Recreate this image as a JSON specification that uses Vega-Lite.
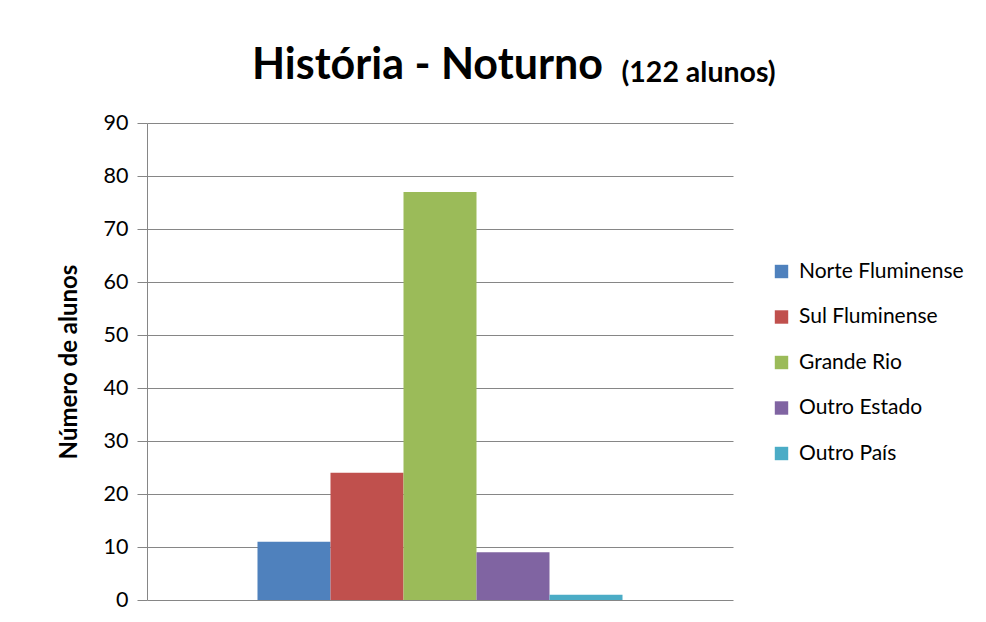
{
  "$schema": "https://vega.github.io/schema/vega-lite/v6.json",
  "autosize": "none",
  "width": 586,
  "height": 477,
  "padding": {"left": 147, "top": 123, "right": 253, "bottom": 22},
  "background": "white",
  "title": {
    "text": "História - Noturno",
    "anchor": "start",
    "frame": "group",
    "dx": 105,
    "font": "Lato",
    "fontSize": 43,
    "fontWeight": "bold",
    "color": "#000000",
    "baseline": "alphabetic",
    "offset": -64
  },
  "data": {
    "values": [
      {"grupo": "Noturno", "origem": "Norte Fluminense", "alunos": 11},
      {"grupo": "Noturno", "origem": "Sul Fluminense", "alunos": 24},
      {"grupo": "Noturno", "origem": "Grande Rio", "alunos": 77},
      {"grupo": "Noturno", "origem": "Outro Estado", "alunos": 9},
      {"grupo": "Noturno", "origem": "Outro País", "alunos": 1}
    ]
  },
  "mark": {"type": "bar"},
  "encoding": {
    "x": {
      "field": "grupo",
      "type": "nominal",
      "scale": {"paddingOuter": 0.3027, "paddingInner": 0},
      "axis": {
        "orient": "top",
        "labels": false,
        "ticks": false,
        "domain": false,
        "title": "(122 alunos)",
        "titleFont": "Lato",
        "titleFontSize": 28.5,
        "titleFontWeight": "bold",
        "titleColor": "#000000",
        "titleAnchor": "start",
        "titleAlign": "left",
        "titleBaseline": "alphabetic",
        "titleX": 474,
        "titleY": -42
      }
    },
    "xOffset": {
      "field": "origem",
      "type": "nominal",
      "sort": ["Norte Fluminense", "Sul Fluminense", "Grande Rio", "Outro Estado", "Outro País"],
      "scale": {"paddingInner": 0, "paddingOuter": 0}
    },
    "y": {
      "field": "alunos",
      "type": "quantitative",
      "scale": {"domain": [0, 90], "nice": false},
      "axis": {
        "values": [0, 10, 20, 30, 40, 50, 60, 70, 80, 90],
        "title": "Número de alunos",
        "titleFont": "Lato",
        "titleFontSize": 24,
        "titleFontWeight": "bold",
        "titleColor": "#000000",
        "titlePadding": 22,
        "labelFont": "Lato",
        "labelFontSize": 21.5,
        "labelColor": "#000000",
        "labelPadding": 9,
        "tickSize": 10,
        "tickColor": "#868686",
        "domainColor": "#868686",
        "gridColor": "#868686",
        "grid": true
      }
    },
    "color": {
      "field": "origem",
      "type": "nominal",
      "sort": ["Norte Fluminense", "Sul Fluminense", "Grande Rio", "Outro Estado", "Outro País"],
      "scale": {
        "domain": ["Norte Fluminense", "Sul Fluminense", "Grande Rio", "Outro Estado", "Outro País"],
        "range": ["#4F81BD", "#C0504D", "#9BBB59", "#8064A2", "#4BACC6"]
      },
      "legend": {
        "title": null,
        "orient": "none",
        "legendX": 624,
        "legendY": 138,
        "symbolType": "square",
        "symbolSize": 180,
        "symbolStrokeWidth": 0,
        "labelFont": "Lato",
        "labelFontSize": 21,
        "labelColor": "#000000",
        "labelOffset": 7,
        "labelLimit": 400,
        "rowPadding": 23.5
      }
    }
  },
  "config": {
    "view": {"stroke": null}
  }
}
